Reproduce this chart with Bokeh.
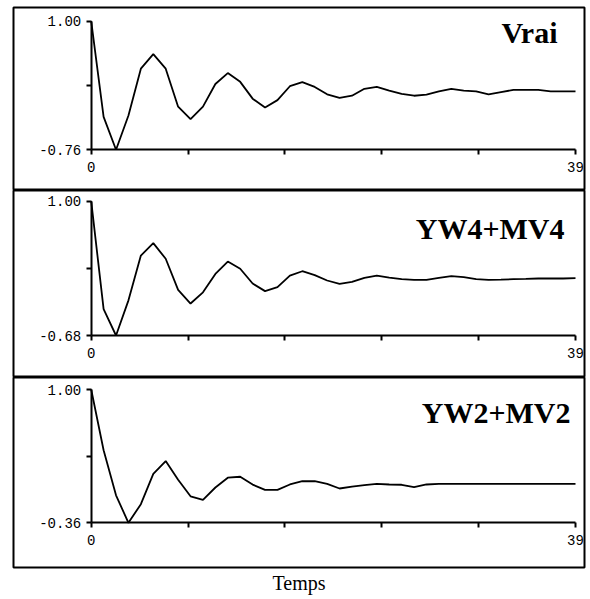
from bokeh.plotting import figure
from bokeh.layouts import column
from bokeh.models import LinearAxis, FixedTicker, NumeralTickFormatter, Range1d, Label, Title
from bokeh.embed import file_html
from bokeh.resources import INLINE

# ---------------- data ----------------
lags = list(range(40))
vrai = [1.00, -0.31, -0.76, -0.29, 0.35, 0.55, 0.35, -0.17, -0.34, -0.17,
        0.14, 0.29, 0.17, -0.06, -0.18, -0.08, 0.11, 0.165, 0.10, 0.00,
        -0.05, -0.02, 0.075, 0.10, 0.05, 0.005, -0.02, -0.005, 0.04, 0.075,
        0.05, 0.04, 0.00, 0.03, 0.06, 0.06, 0.06, 0.04, 0.04, 0.04]
yw4_mv4 = [1.00, -0.35, -0.68, -0.24, 0.32, 0.475, 0.28, -0.11, -0.28, -0.14,
           0.09, 0.245, 0.155, -0.03, -0.125, -0.075, 0.07, 0.124, 0.075, 0.008,
           -0.033, -0.01, 0.042, 0.07, 0.045, 0.024, 0.017, 0.017, 0.042, 0.062,
           0.05, 0.024, 0.017, 0.02, 0.024, 0.028, 0.033, 0.033, 0.033, 0.037]
yw2_mv2 = [1.00, 0.38, -0.08, -0.36, -0.17, 0.14, 0.27, 0.08, -0.09, -0.125,
           0.00, 0.10, 0.11, 0.03, -0.024, -0.024, 0.031, 0.064, 0.064, 0.037,
           -0.01, 0.01, 0.024, 0.037, 0.031, 0.028, 0.003, 0.031, 0.037, 0.037,
           0.037, 0.037, 0.037, 0.037, 0.037, 0.037, 0.037, 0.037, 0.037, 0.037]
series = [vrai, yw4_mv4, yw2_mv2]
titles = ["Vrai", "YW4+MV4", "YW2+MV2"]
y_min_ticks = [-0.76, -0.68, -0.36]
y_max_tick = 1.00
y_mid_ticks = [0.12, 0.16, 0.32]
x_major_ticks = [0, 39]
x_minor_ticks = [7.8, 15.6, 23.4, 31.2]
x_label = "Temps"

# ---------------- layout (page pixels) ----------------
FRAME_LEFT, FRAME_RIGHT = 13, 584
X0_PIX, X39_PIX = 90.7, 575.0
frames = [(7, 190), (190, 377), (377, 567)]          # frame top/bottom
data_pix = [(20.7, 149.3), (200.7, 335.0), (389.0, 522.3)]  # pixel of 1.00 / min
title_pos = [(557, 32), (564, 228), (570, 412)]      # right edge / baseline
heights = [190, 187, 221]
borders_top = [7, 0, 0]
borders_bottom = [0, 0, 31]

ppx = (X39_PIX - X0_PIX) / (x_major_ticks[1] - x_major_ticks[0])
x_start = x_major_ticks[0] - (X0_PIX - FRAME_LEFT) / ppx
x_end = x_major_ticks[1] + (FRAME_RIGHT - X39_PIX) / ppx

LABEL_FONT = "Liberation Mono"
LABEL_SIZE = "14px"


def make_axis(**kw):
    base = dict(major_tick_in=0, major_tick_out=5, minor_tick_in=0, minor_tick_out=5,
                axis_line_width=2, major_tick_line_width=2, minor_tick_line_width=2,
                major_label_text_font=LABEL_FONT, major_label_text_font_size=LABEL_SIZE,
                major_label_text_color="black")
    base.update(kw)
    return LinearAxis(**base)


plots = []
for i in range(3):
    ymin = y_min_ticks[i]
    ftop, fbot = frames[i]
    pmax, pmin = data_pix[i]
    ppu = (pmin - pmax) / (y_max_tick - ymin)
    y_end = y_max_tick + (pmax - ftop) / ppu
    y_start = ymin - (fbot - pmin) / ppu

    p = figure(width=FRAME_RIGHT + 3, height=heights[i],
               x_range=Range1d(x_start, x_end), y_range=Range1d(y_start, y_end),
               x_axis_type=None, y_axis_type=None,
               toolbar_location=None, output_backend="svg",
               min_border_left=FRAME_LEFT, min_border_right=3,
               min_border_top=borders_top[i], min_border_bottom=borders_bottom[i],
               outline_line_color="black", outline_line_width=2,
               background_fill_color="white", border_fill_color="white")

    p.add_layout(make_axis(fixed_location=ymin, bounds=(x_major_ticks[0], x_major_ticks[1]),
                           ticker=FixedTicker(ticks=x_major_ticks, minor_ticks=x_minor_ticks),
                           major_label_standoff=7), "below")
    p.add_layout(make_axis(fixed_location=x_major_ticks[0], bounds=(ymin, y_max_tick),
                           ticker=FixedTicker(ticks=[ymin, y_max_tick], minor_ticks=[y_mid_ticks[i]]),
                           formatter=NumeralTickFormatter(format="0.00"),
                           major_label_standoff=5), "left")

    p.line(lags, series[i], line_color="black", line_width=1.8)

    tx, tb = title_pos[i]
    p.add_layout(Label(x=x_major_ticks[0] + (tx - X0_PIX) / ppx,
                       y=y_max_tick - (tb - pmax) / ppu,
                       text=titles[i], text_align="right", text_baseline="alphabetic",
                       text_font="Liberation Serif", text_font_style="bold",
                       text_font_size="30px", text_color="black"))
    plots.append(p)

plots[2].add_layout(Title(text=x_label, align="center", text_font="Liberation Serif",
                          text_font_size="20px", text_font_style="normal",
                          text_color="black", standoff=4, offset=0), "below")

layout = column(*plots, spacing=0)
open("out.html", "w").write(file_html(layout, INLINE))
